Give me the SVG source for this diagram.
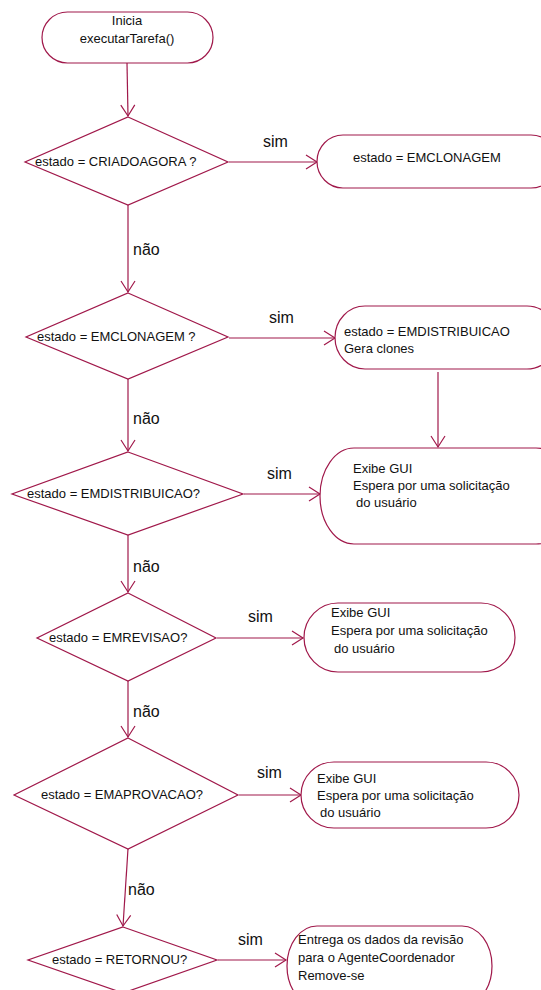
<svg xmlns="http://www.w3.org/2000/svg" width="541" height="990" viewBox="0 0 541 990">
<style>
.s{fill:#fff;stroke:#A0184A;stroke-width:1.2}
.c{fill:none;stroke:#A0184A;stroke-width:1.2}
text{font-family:"Liberation Sans",Arial,sans-serif;fill:#111}
.t{font-size:13px}
.l{font-size:16px}
</style>
<defs>
<marker id="a" markerUnits="userSpaceOnUse" markerWidth="14" markerHeight="16" viewBox="0 0 14 16" refX="12" refY="8" orient="auto">
<path d="M1,1 L12,8 L1,15" fill="none" stroke="#A0184A" stroke-width="1.2"/>
</marker>
</defs>
<rect width="541" height="990" fill="#fff"/>
<g id="connectors">
<line class="c" x1="127" y1="63" x2="128" y2="116" marker-end="url(#a)"/>
<line class="c" x1="128" y1="205" x2="128" y2="292" marker-end="url(#a)"/>
<line class="c" x1="128" y1="379" x2="128" y2="451" marker-end="url(#a)"/>
<line class="c" x1="128" y1="535" x2="128" y2="592" marker-end="url(#a)"/>
<line class="c" x1="128" y1="681" x2="128" y2="737" marker-end="url(#a)"/>
<line class="c" x1="128" y1="849" x2="123" y2="926" marker-end="url(#a)"/>
<line class="c" x1="229" y1="162" x2="317" y2="162" marker-end="url(#a)"/>
<line class="c" x1="229" y1="338" x2="335" y2="338" marker-end="url(#a)"/>
<line class="c" x1="438" y1="372" x2="438" y2="447" marker-end="url(#a)"/>
<line class="c" x1="244" y1="494" x2="320" y2="494" marker-end="url(#a)"/>
<line class="c" x1="217" y1="638" x2="303" y2="638" marker-end="url(#a)"/>
<line class="c" x1="239" y1="795" x2="301" y2="795" marker-end="url(#a)"/>
<line class="c" x1="218" y1="960" x2="286" y2="960" marker-end="url(#a)"/>
<text class="l" x="263" y="147">sim</text>
<text class="l" x="269" y="323">sim</text>
<text class="l" x="267" y="479">sim</text>
<text class="l" x="248" y="622">sim</text>
<text class="l" x="257" y="778">sim</text>
<text class="l" x="238" y="945">sim</text>
<text class="l" x="133" y="255">não</text>
<text class="l" x="133" y="424">não</text>
<text class="l" x="133" y="572">não</text>
<text class="l" x="133" y="717">não</text>
<text class="l" x="128" y="895">não</text>
</g>
<g id="inicio">
<rect class="s" x="42" y="12" width="171" height="51" rx="25.5" ry="25.5"/>
<text class="t" x="127" y="25" text-anchor="middle">Inicia</text>
<text class="t" x="127" y="43" text-anchor="middle">executarTarefa()</text>
</g>
<g id="d1">
<polygon class="s" points="128,117 228,162 128,205 25,162"/>
<text class="t" x="35" y="166">estado = CRIADOAGORA ?</text>
</g>
<g id="n1">
<rect class="s" x="317" y="135" width="240" height="53" rx="26" ry="26.5"/>
<text class="t" x="353" y="162">estado = EMCLONAGEM</text>
</g>
<g id="d2">
<polygon class="s" points="128,293 228,337 128,379 26,337"/>
<text class="t" x="37" y="341">estado = EMCLONAGEM ?</text>
</g>
<g id="n2">
<rect class="s" x="335" y="306" width="222" height="63" rx="30" ry="31.5"/>
<text class="t" x="344" y="336">estado = EMDISTRIBUICAO</text>
<text class="t" x="344" y="353">Gera clones</text>
</g>
<g id="d3">
<polygon class="s" points="128,452 243,494 128,535 12,494"/>
<text class="t" x="27" y="498">estado = EMDISTRIBUICAO?</text>
</g>
<g id="n3">
<rect class="s" x="320" y="448" width="250" height="96" rx="34" ry="48"/>
<text class="t" x="353" y="473">Exibe GUI</text>
<text class="t" x="353" y="490">Espera por uma solicitação</text>
<text class="t" x="356" y="507">do usuário</text>
</g>
<g id="d4">
<polygon class="s" points="128,593 216,638 128,681 37,638"/>
<text class="t" x="49" y="642">estado = EMREVISAO?</text>
</g>
<g id="n4">
<rect class="s" x="304" y="603" width="211" height="69" rx="34" ry="34.5"/>
<text class="t" x="331" y="617">Exibe GUI</text>
<text class="t" x="331" y="635">Espera por uma solicitação</text>
<text class="t" x="334" y="653">do usuário</text>
</g>
<g id="d5">
<polygon class="s" points="128,738 238,795 128,849 14,795"/>
<text class="t" x="41" y="799">estado = EMAPROVACAO?</text>
</g>
<g id="n5">
<rect class="s" x="301" y="762" width="218" height="66" rx="33" ry="33"/>
<text class="t" x="317" y="783">Exibe GUI</text>
<text class="t" x="317" y="800">Espera por uma solicitação</text>
<text class="t" x="320" y="817">do usuário</text>
</g>
<g id="d6">
<polygon class="s" points="123,927 217,960 123,993 28,960"/>
<text class="t" x="52" y="964">estado = RETORNOU?</text>
</g>
<g id="n6">
<rect class="s" x="287" y="926" width="205" height="80" rx="30" ry="40"/>
<text class="t" x="298" y="944">Entrega os dados da revisão</text>
<text class="t" x="298" y="962">para o AgenteCoordenador</text>
<text class="t" x="298" y="980">Remove-se</text>
</g>
</svg>
